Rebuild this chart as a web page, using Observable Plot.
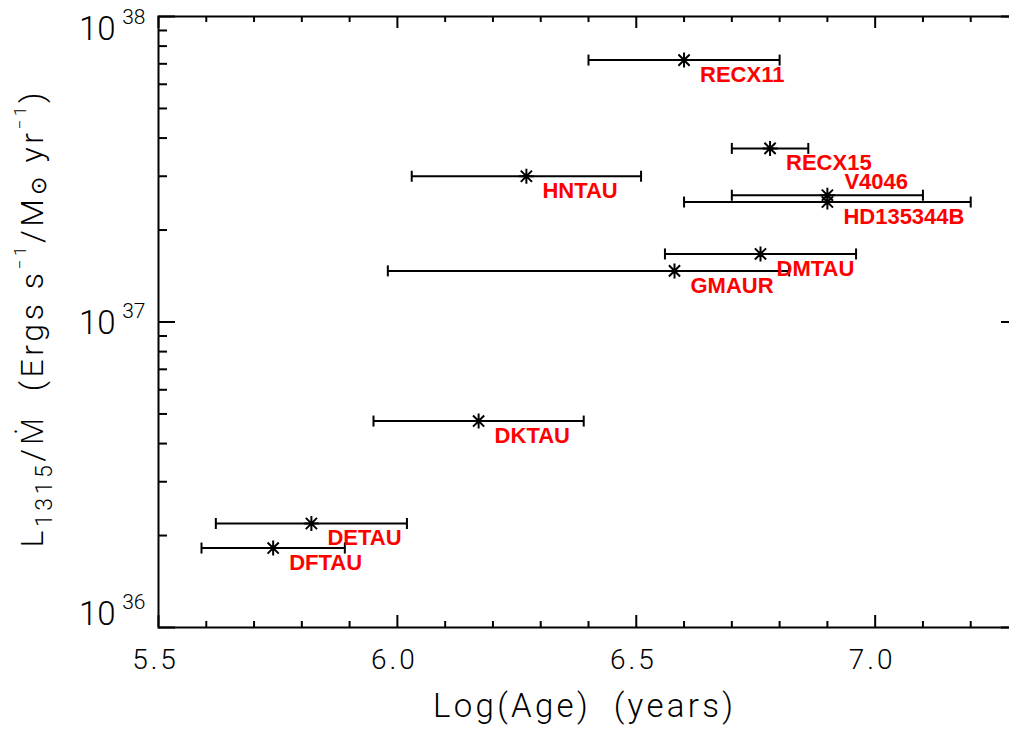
<!DOCTYPE html>
<html><head><meta charset="utf-8">
<script src="https://cdn.jsdelivr.net/npm/d3@7"></script>
<script src="https://cdn.jsdelivr.net/npm/@observablehq/plot@0.6"></script>
<style>html,body{margin:0;padding:0;background:#fff;overflow:hidden;width:1009px;height:737px;}</style>
</head><body><div id="chart"></div>
<script>
// ---- data ----
const names   = ["RECX11","RECX15","HNTAU","V4046","HD135344B","DMTAU","GMAUR","DKTAU","DETAU","DFTAU"];
const logAge  = [6.60, 6.78, 6.27, 6.90, 6.90, 6.76, 6.58, 6.17, 5.82, 5.74];
const ageLow  = [6.40, 6.70, 6.03, 6.70, 6.60, 6.56, 5.98, 5.95, 5.62, 5.59];
const ageHigh = [6.80, 6.86, 6.51, 7.10, 7.20, 6.96, 6.82, 6.39, 6.02, 5.89];
const ratio   = [7.2e37, 3.7e37, 3.0e37, 2.6e37, 2.47e37, 1.67e37, 1.47e37, 4.74e36, 2.19e36, 1.82e36];

const xMajor = [5.5, 6.0, 6.5, 7.0];
const xTickLabels = ["5.5", "6.0", "6.5", "7.0"];
const xMinor = [5.6,5.7,5.8,5.9,6.1,6.2,6.3,6.4,6.6,6.7,6.8,6.9,7.1,7.2];
const yMajor = [1e36, 1e37, 1e38];
const yExponents = ["36", "37", "38"];
const yMinor = [2e36,3e36,4e36,5e36,6e36,7e36,8e36,9e36,2e37,3e37,4e37,5e37,6e37,7e37,8e37,9e37];
const xTitle = "Log(Age)\u00a0 (years)";
const xDomain = [5.5, 7.3];
const yDomain = [1e36, 1e38];

const data = names.map((name, i) => ({name, age: logAge[i], lo: ageLow[i], hi: ageHigh[i], ratio: ratio[i]}));

// ---- symbols ----
const star = {draw(ctx) {
  const r = 7.5, d = 5.6;
  ctx.moveTo(0, -r); ctx.lineTo(0, r);
  ctx.moveTo(-r, 0); ctx.lineTo(r, 0);
  ctx.moveTo(-d, -d); ctx.lineTo(d, d);
  ctx.moveTo(-d, d); ctx.lineTo(d, -d);
}};
const cap = {draw(ctx) { ctx.moveTo(0, -5.5); ctx.lineTo(0, 5.5); }};

// ---- layout ----
const W = 1018, H = 737, ML = 158, MR = 0, MT = 16, MB = 110;
const FW = W - ML - MR, FH = H - MT - MB;
const XMAJ = 12, XMIN = 6, YMAJ = 17, YMIN = 9;
const FONT = "Roboto, 'Open Sans', sans-serif";
const LABEL_FONT = "'Liberation Sans', Arial, sans-serif";
const tickStyle = {stroke: "black", strokeWidth: 2};

// tick lengths converted from pixels to scale units
const xSpan = px => (xDomain[1] - xDomain[0]) * px / FW;
const yFactor = px => Math.pow(yDomain[1] / yDomain[0], px / FH);

const xTicks = (values, len) => [
  Plot.ruleX(values, {x: d => d, y1: () => yDomain[0], y2: () => yDomain[0] * yFactor(len), ...tickStyle}),
  Plot.ruleX(values, {x: d => d, y1: () => yDomain[1], y2: () => yDomain[1] / yFactor(len), ...tickStyle})
];
const yTicks = (values, len) => [
  Plot.ruleY(values, {y: d => d, x1: () => xDomain[0], x2: () => xDomain[0] + xSpan(len), ...tickStyle}),
  Plot.ruleY(values, {y: d => d, x1: () => xDomain[1], x2: () => xDomain[1] - xSpan(len), ...tickStyle})
];
const yLabelShift = [-13, 1.5, 13];
const yLabelMarks = yMajor.flatMap((v, i) => [
  Plot.text([v], {y: d => d, x: () => xDomain[0], dx: -43, dy: yLabelShift[i], textAnchor: "end",
                  lineAnchor: "middle", text: () => "10", fontSize: 33, fill: "black"}),
  Plot.text([v], {y: d => d, x: () => xDomain[0], dx: -13, dy: yLabelShift[i] - 12.5, textAnchor: "end",
                  lineAnchor: "middle", text: () => yExponents[i], fontSize: 21, fill: "black"})
]);

const chart = Plot.plot({
  width: W, height: H,
  marginLeft: ML, marginRight: MR, marginTop: MT, marginBottom: MB,
  style: `font-family: ${FONT}; font-weight: 300; background: white; color: black; max-width: none;`,
  x: {domain: xDomain, axis: null},
  y: {type: "log", domain: yDomain, axis: null},
  marks: [
    Plot.frame({stroke: "black", strokeWidth: 2}),
    ...xTicks(xMajor, XMAJ), ...xTicks(xMinor, XMIN),
    ...yTicks(yMajor, YMAJ), ...yTicks(yMinor, YMIN),
    Plot.text(xMajor, {x: d => d, y: () => yDomain[0], dy: 22, dx: -3, lineAnchor: "top",
                       text: (d, i) => xTickLabels[i], fontSize: 28, fill: "black"}),
    ...yLabelMarks,
    Plot.ruleY(data, {y: "ratio", x1: "lo", x2: "hi", stroke: "black", strokeWidth: 2}),
    Plot.dot(data, {x: "lo", y: "ratio", symbol: cap, stroke: "black", strokeWidth: 2}),
    Plot.dot(data, {x: "hi", y: "ratio", symbol: cap, stroke: "black", strokeWidth: 2}),
    Plot.dot(data, {x: "age", y: "ratio", symbol: star, stroke: "black", strokeWidth: 2}),
    Plot.text(data, {filter: d => d.name !== "V4046", x: "age", y: "ratio", text: "name",
                     dx: 16, dy: 22, textAnchor: "start", lineAnchor: "bottom",
                     fill: "#ff0000", fontSize: 22, fontWeight: "bold", fontFamily: LABEL_FONT}),
    Plot.text(data, {filter: d => d.name === "V4046", x: "age", y: "ratio", text: "name",
                     dx: 17, dy: -6, textAnchor: "start", lineAnchor: "bottom",
                     fill: "#ff0000", fontSize: 22, fontWeight: "bold", fontFamily: LABEL_FONT})
  ]
});
document.getElementById("chart").appendChild(chart);

const svg = d3.select(chart);
svg.selectAll("text").filter(function() { return xTickLabels.includes(this.textContent); })
   .style("letter-spacing", "3px");

// x title
svg.append("text")
  .attr("x", 583).attr("y", 717)
  .attr("text-anchor", "middle")
  .attr("font-size", 33).attr("font-family", FONT).attr("font-weight", 300)
  .attr("fill", "black")
  .attr("textLength", 300).attr("lengthAdjust", "spacing")
  .text(xTitle);

// y title
const yt = svg.append("text")
  .attr("transform", "translate(43,320) rotate(-90)")
  .attr("text-anchor", "middle")
  .attr("font-size", 32).attr("font-family", FONT).attr("font-weight", 300)
  .attr("fill", "black")
  .attr("textLength", 455).attr("lengthAdjust", "spacing");
yt.append("tspan").text("L");
yt.append("tspan").attr("font-size", 23).attr("dy", 9).text("1315");
yt.append("tspan").attr("dy", -9).text("/Ṁ\u00a0 (Ergs s");
yt.append("tspan").attr("font-size", 17).attr("dy", -17).text("−1");
yt.append("tspan").attr("dy", 17).text("/M");
yt.append("tspan").attr("font-size", 22).attr("dy", 3).text("⊙");
yt.append("tspan").attr("dy", -3).text(" yr");
yt.append("tspan").attr("font-size", 17).attr("dy", -17).text("−1");
yt.append("tspan").attr("dy", 17).text(")");
</script>
</body></html>
